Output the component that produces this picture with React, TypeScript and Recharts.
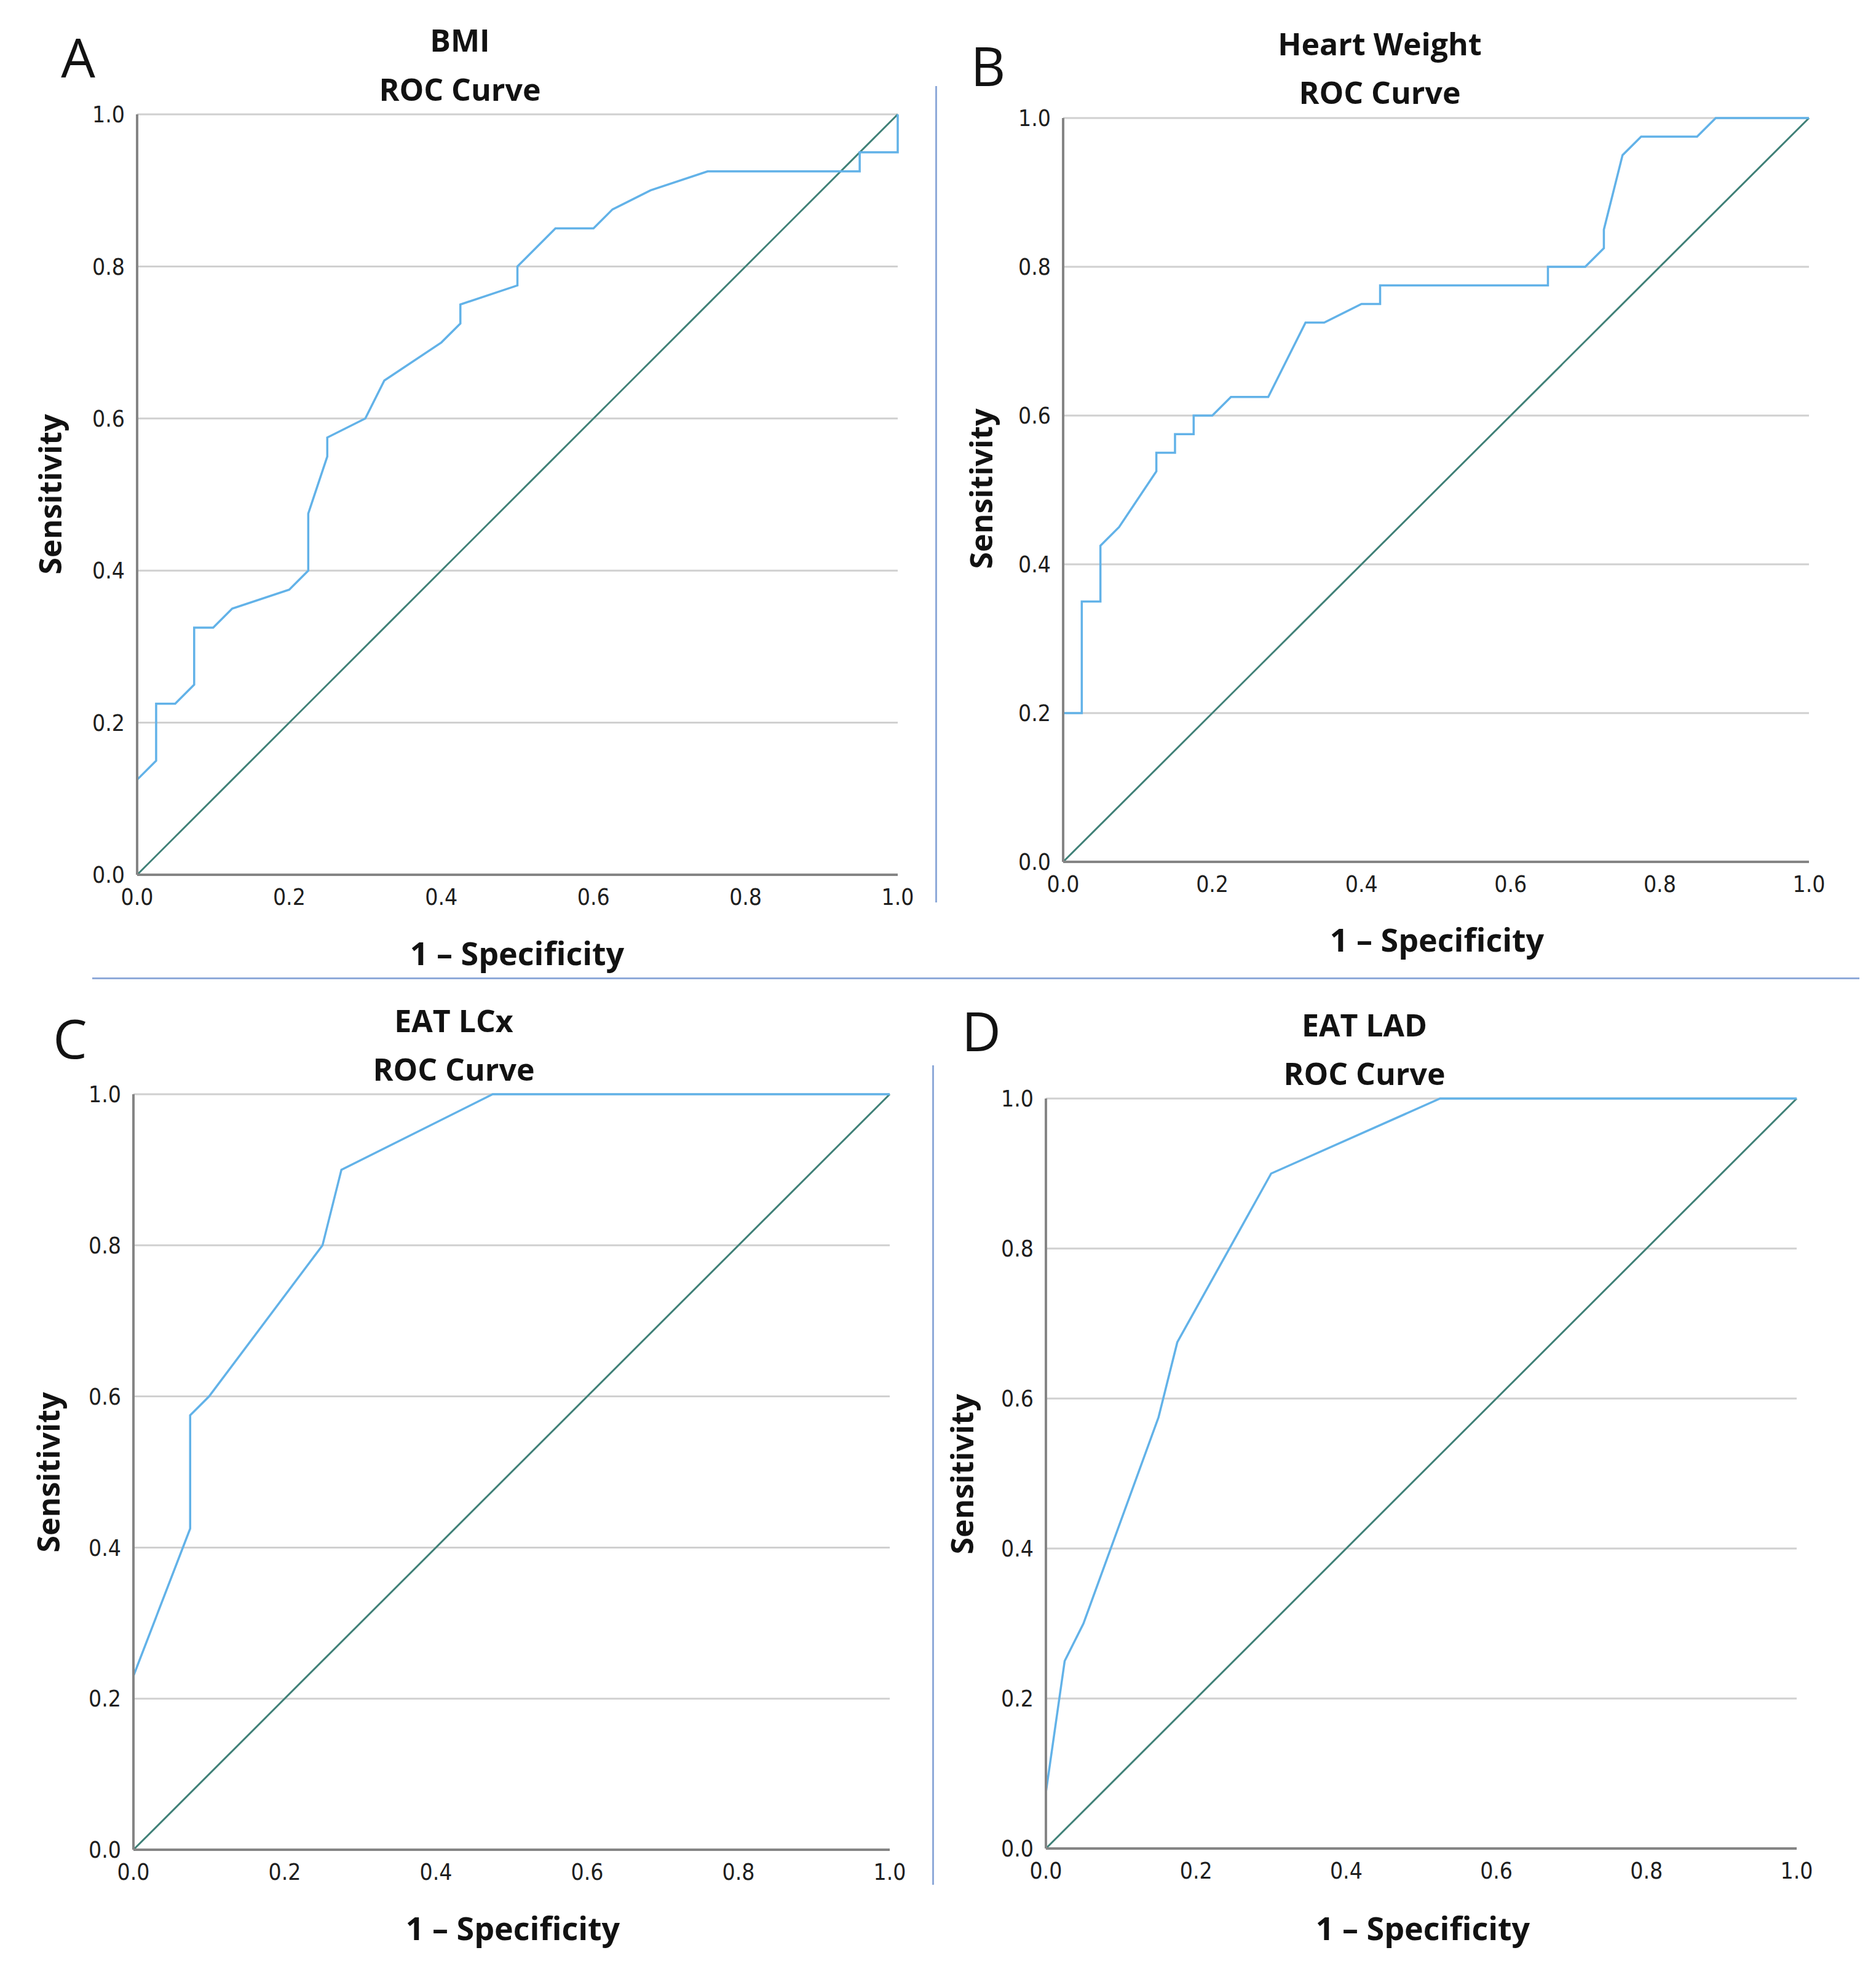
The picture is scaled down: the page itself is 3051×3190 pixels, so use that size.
import React from "react";
import { CartesianGrid, Line, LineChart, XAxis, YAxis } from "recharts";

// 1 - specificity / sensitivity pairs
const bmiFpr = [0, 0, 0.025, 0.025, 0.05, 0.075, 0.075, 0.1, 0.125, 0.2, 0.225, 0.225, 0.25, 0.25, 0.3, 0.325, 0.4, 0.425, 0.425, 0.5, 0.5, 0.55, 0.6, 0.625, 0.675, 0.75, 0.95, 0.95, 1, 1];
const bmiTpr = [0, 0.125, 0.15, 0.225, 0.225, 0.25, 0.325, 0.325, 0.35, 0.375, 0.4, 0.475, 0.55, 0.575, 0.6, 0.65, 0.7, 0.725, 0.75, 0.775, 0.8, 0.85, 0.85, 0.875, 0.9, 0.925, 0.925, 0.95, 0.95, 1];

const heartFpr = [0, 0, 0.025, 0.025, 0.05, 0.05, 0.075, 0.125, 0.125, 0.15, 0.15, 0.175, 0.175, 0.2, 0.225, 0.275, 0.325, 0.35, 0.4, 0.425, 0.425, 0.65, 0.65, 0.7, 0.725, 0.725, 0.75, 0.775, 0.85, 0.875, 1];
const heartTpr = [0, 0.2, 0.2, 0.35, 0.35, 0.425, 0.45, 0.525, 0.55, 0.55, 0.575, 0.575, 0.6, 0.6, 0.625, 0.625, 0.725, 0.725, 0.75, 0.75, 0.775, 0.775, 0.8, 0.8, 0.825, 0.85, 0.95, 0.975, 0.975, 1, 1];

const lcxFpr = [0, 0, 0.075, 0.075, 0.1, 0.25, 0.275, 0.475, 1];
const lcxTpr = [0, 0.23, 0.425, 0.575, 0.6, 0.8, 0.9, 1, 1];

const ladFpr = [0, 0, 0.025, 0.05, 0.15, 0.175, 0.3, 0.525, 1];
const ladTpr = [0, 0.075, 0.25, 0.3, 0.575, 0.675, 0.9, 1, 1];

const refFpr = [0, 1];
const refTpr = [0, 1];

const axisTicks = [0, 0.2, 0.4, 0.6, 0.8, 1.0];

const zip = (xs: number[], ys: number[]) => xs.map((x, i) => ({ x, y: ys[i] }));

const CURVE = "#62b2e8";
const DIAG = "#3f8077";
const GRID = "#d0d0d0";
const AXIS = "#858585";
const SEP = "#8faad9";
const TITLE_FONT = '"Open Sans", "DejaVu Sans", sans-serif';
const TICK_FONT = '"DejaVu Sans Condensed", "DejaVu Sans", sans-serif';

const Y_W = 100;
const M_TOP = 20;
const M_RIGHT = 40;
const X_H = 80;

type PanelProps = {
  letter: string;
  title: string;
  fpr: number[];
  tpr: number[];
  left: number;
  top: number;
  w: number;
  h: number;
  letterPos: [number, number];
  titleX: number;
  titleY: [number, number];
  xLabel: [number, number];
  yLabel: [number, number];
};

function Txt({
  x,
  y,
  size,
  weight = 700,
  font = TITLE_FONT,
  rotate = 0,
  children,
}: {
  x: number;
  y: number;
  size: number;
  weight?: number;
  font?: string;
  rotate?: number;
  children: React.ReactNode;
}) {
  return (
    <div
      style={{
        position: "absolute",
        left: x,
        top: y,
        transform: `translate(-50%, -50%) rotate(${rotate}deg)`,
        fontFamily: font,
        fontSize: size,
        fontWeight: weight,
        lineHeight: 1,
        whiteSpace: "nowrap",
        color: "#121212",
      }}
    >
      {children}
    </div>
  );
}

function Panel(p: PanelProps) {
  const roc = zip(p.fpr, p.tpr);
  const ref = zip(refFpr, refTpr);
  const tick = { fontSize: 37, fill: "#1e1e1e", fontFamily: TICK_FONT };
  return (
    <>
      <div
        style={{
          position: "absolute",
          left: p.left - Y_W,
          top: p.top - M_TOP,
        }}
      >
        <LineChart
          width={p.w + Y_W + M_RIGHT}
          height={p.h + M_TOP + X_H}
          margin={{ top: M_TOP, right: M_RIGHT, left: 0, bottom: 0 }}
        >
          <CartesianGrid stroke={GRID} strokeWidth={3} vertical={false} />
          <XAxis
            type="number"
            dataKey="x"
            domain={[0, 1]}
            ticks={axisTicks}
            tickFormatter={(v: number) => v.toFixed(1)}
            tick={tick}
            tickLine={false}
            tickSize={0}
            tickMargin={23}
            axisLine={{ stroke: AXIS, strokeWidth: 4 }}
            height={X_H}
            interval={0}
          />
          <YAxis
            type="number"
            dataKey="y"
            domain={[0, 1]}
            ticks={axisTicks}
            tickFormatter={(v: number) => v.toFixed(1)}
            tick={tick}
            tickLine={false}
            tickSize={0}
            tickMargin={20}
            axisLine={{ stroke: AXIS, strokeWidth: 4 }}
            width={Y_W}
            interval={0}
          />
          <Line
            data={ref}
            dataKey="y"
            type="linear"
            stroke={DIAG}
            strokeWidth={3}
            dot={false}
            isAnimationActive={false}
          />
          <Line
            data={roc}
            dataKey="y"
            type="linear"
            stroke={CURVE}
            strokeWidth={3.5}
            dot={false}
            isAnimationActive={false}
          />
        </LineChart>
      </div>
      <Txt x={p.letterPos[0]} y={p.letterPos[1]} size={88} weight={400} font='"Open Sans", sans-serif'>
        {p.letter}
      </Txt>
      <Txt x={p.titleX} y={p.titleY[0]} size={50}>
        {p.title}
      </Txt>
      <Txt x={p.titleX} y={p.titleY[1]} size={50}>
        ROC Curve
      </Txt>
      <Txt x={p.xLabel[0]} y={p.xLabel[1]} size={52}>
        1 – Specificity
      </Txt>
      <Txt x={p.yLabel[0]} y={p.yLabel[1]} size={50} rotate={-90}>
        Sensitivity
      </Txt>
    </>
  );
}

export default function App() {
  return (
    <div style={{ position: "relative", width: 3051, height: 3190, background: "#fff", overflow: "hidden" }}>
      <style>{"body{margin:0}"}</style>
      <Panel
        letter="A"
        title="BMI"
        fpr={bmiFpr}
        tpr={bmiTpr}
        left={223}
        top={186}
        w={1237}
        h={1237}
        letterPos={[127, 92]}
        titleX={748}
        titleY={[65, 145]}
        xLabel={[841, 1550]}
        yLabel={[81, 804]}
      />
      <Panel
        letter="B"
        title="Heart Weight"
        fpr={heartFpr}
        tpr={heartTpr}
        left={1729}
        top={192}
        w={1213}
        h={1210}
        letterPos={[1607, 106]}
        titleX={2244}
        titleY={[71, 150]}
        xLabel={[2337, 1528]}
        yLabel={[1595, 795]}
      />
      <Panel
        letter="C"
        title="EAT LCx"
        fpr={lcxFpr}
        tpr={lcxTpr}
        left={217}
        top={1780}
        w={1230}
        h={1229}
        letterPos={[114, 1688]}
        titleX={738}
        titleY={[1660, 1739]}
        xLabel={[834, 3136]}
        yLabel={[78, 2395]}
      />
      <Panel
        letter="D"
        title="EAT LAD"
        fpr={ladFpr}
        tpr={ladTpr}
        left={1701}
        top={1787}
        w={1221}
        h={1220}
        letterPos={[1596, 1676]}
        titleX={2219}
        titleY={[1667, 1746]}
        xLabel={[2314, 3136]}
        yLabel={[1564, 2398]}
      />
      {/* thin blue separators between panels */}
      <div style={{ position: "absolute", left: 1521, top: 140, width: 3, height: 1328, background: SEP }} />
      <div style={{ position: "absolute", left: 150, top: 1590, width: 2874, height: 3, background: SEP }} />
      <div style={{ position: "absolute", left: 1516, top: 1733, width: 3, height: 1333, background: SEP }} />
    </div>
  );
}
